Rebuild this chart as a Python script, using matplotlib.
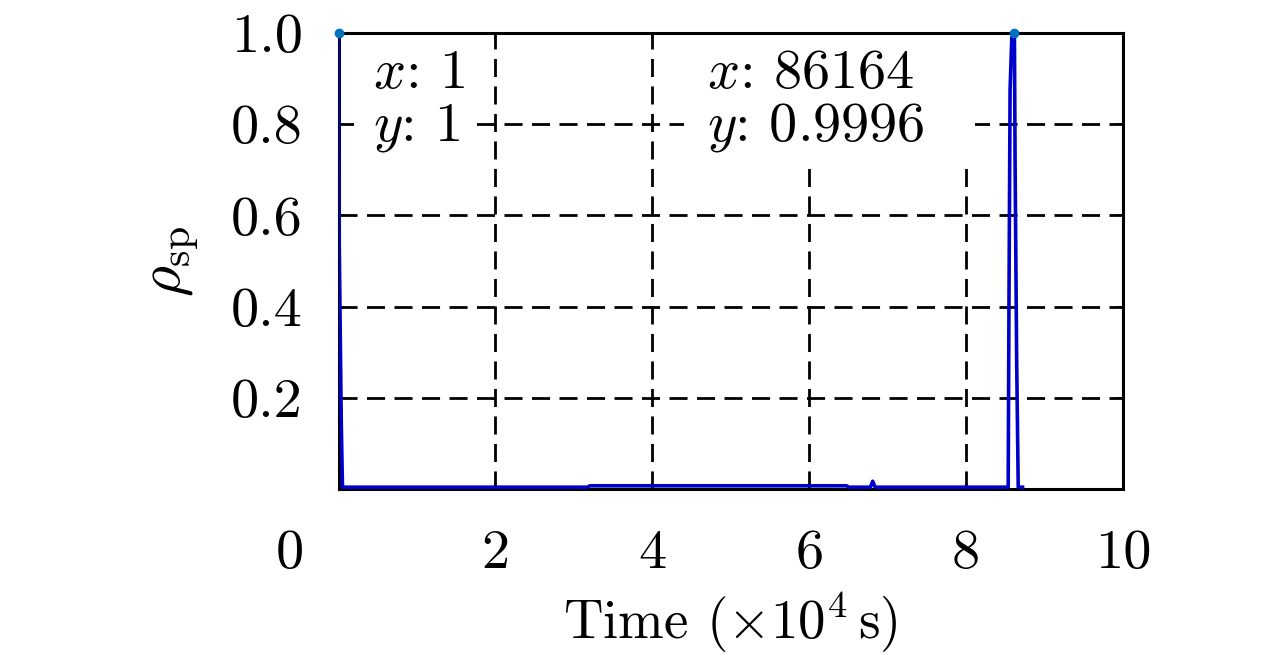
import numpy as np
import matplotlib
matplotlib.use('Agg')
import matplotlib.pyplot as plt
from matplotlib.patches import Rectangle
from matplotlib.transforms import ScaledTranslation

# Fonte no estilo LaTeX (Computer Modern)
plt.rcParams['font.family'] = 'serif'
plt.rcParams['font.serif'] = ['cmr10']
plt.rcParams['mathtext.fontset'] = 'cm'
plt.rcParams['axes.unicode_minus'] = False

# Dados (tempo em unidades de 1e4 s)
t_data = [0.0001, 0.006, 0.035, 0.05, 3.18, 3.2, 6.48, 6.5, 6.78, 6.81, 6.84,
          8.537, 8.548, 8.561, 8.583, 8.6164, 8.625, 8.645, 8.665, 8.72]
rho_data = [1.0, 0.575, 0.14, 0.004, 0.004, 0.007, 0.007, 0.004, 0.004, 0.017, 0.004,
            0.004, 0.443, 0.875, 0.99, 0.9996, 0.715, 0.283, 0.004, 0.004]

# Pontos marcados (data tips)
tip_x = [0.0001, 8.6164]
tip_y = [1.0, 0.9996]
tip_texts = [('1', '1'), ('86164', '0.9996')]

x_ticks = [0, 2, 4, 6, 8, 10]
x_ticklabels = ['0', '2', '4', '6', '8', '10']
y_ticks = [0, 0.2, 0.4, 0.6, 0.8, 1.0]
y_ticklabels = ['', '0.2', '0.4', '0.6', '0.8', '1.0']

fig = plt.figure(figsize=(12.8, 6.57), dpi=100)
ax = fig.add_axes([0.2645, 0.2557, 0.6128, 0.6941])

ax.plot(t_data, rho_data, color=(0, 0, 0.8), linewidth=2.6, zorder=3)
ax.plot(tip_x, tip_y, 'o', color='#0072BD', markersize=6, zorder=5, clip_on=False)

ax.set_xlim(0, 10)
ax.set_ylim(0, 1)
ax.set_xticks(x_ticks)
ax.set_xticklabels(x_ticklabels)
ax.set_yticks(y_ticks)
ax.set_yticklabels(y_ticklabels)

ax.grid(True, color='k', linestyle=(0, (6.5, 3.4)), linewidth=2.0)
ax.tick_params(direction='in', length=4, width=1.2, top=True, right=True, labelsize=40.5)
ax.tick_params(axis='x', pad=29)
ax.tick_params(axis='y', pad=26)
for s in ax.spines.values():
    s.set_linewidth(2.2)

# o "0" do eixo x fica deslocado para a esquerda
lbl0 = ax.get_xticklabels()[0]
lbl0.set_transform(lbl0.get_transform() + ScaledTranslation(-0.485, 0, fig.dpi_scale_trans))

# caixas brancas das data tips (escondem a grade)
ax.add_patch(Rectangle((0.20, 0.704), 1.57, 0.292, facecolor='white', edgecolor='none', zorder=2))
ax.add_patch(Rectangle((4.40, 0.704), 3.71, 0.292, facecolor='white', edgecolor='none', zorder=2))

text_x = [0.44, 4.70]
for tx, (sx, sy) in zip(text_x, tip_texts):
    ax.text(tx, 0.879, r'$x$: ' + sx, fontsize=40.5, va='baseline', ha='left', zorder=4)
    ax.text(tx, 0.765, r'$y$: ' + sy, fontsize=40.5, va='baseline', ha='left', zorder=4)

ax.set_xlabel(r'Time ($\times10^4\,$s)', fontsize=39.5, labelpad=8)
ax.set_ylabel(r'$\rho_{\mathrm{sp}}$', fontsize=43, labelpad=22)

fig.savefig('out.png', dpi=100)
